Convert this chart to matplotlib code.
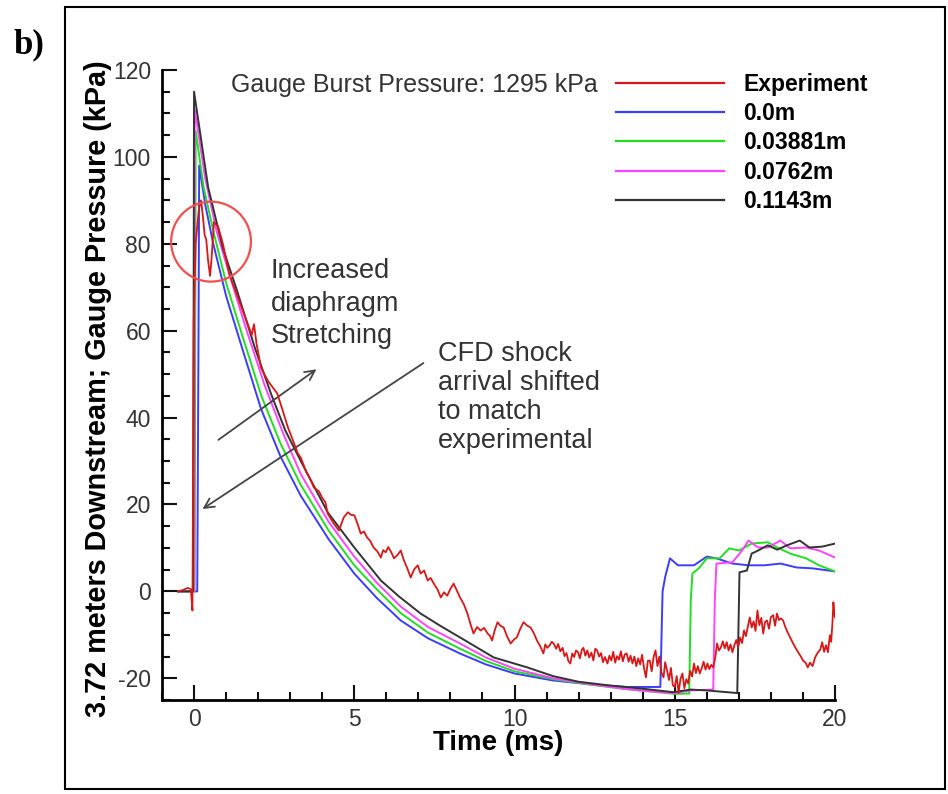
import matplotlib
matplotlib.use("Agg")
import matplotlib.pyplot as plt
from matplotlib.patches import Ellipse, Rectangle
from matplotlib.lines import Line2D

plt.rcParams["font.family"] = ["Liberation Sans", "DejaVu Sans"]
plt.rcParams["axes.unicode_minus"] = False

# ── Data ────────────────────────────────────────────────────────────────────

# Experiment: gauge 3.72 m downstream
exp_t = [-0.5, -0.35, -0.2, -0.1, -0.05, -0.03, -0.01, 0.05, 0.15, 0.22, 0.28,
         0.33, 0.38, 0.44, 0.5, 0.55, 0.62, 0.75, 0.9, 1.1, 1.35, 1.6, 1.8,
         1.87, 1.95, 2.09, 2.3, 2.45, 2.6, 2.75, 2.93, 3.1, 3.24, 3.33, 3.5,
         3.6, 3.74, 3.9, 4.0, 4.1, 4.17, 4.36, 4.52, 4.67, 4.8, 4.9, 5.0, 5.1,
         5.2, 5.3, 5.4, 5.5, 5.6, 5.72, 5.83, 5.9, 5.98, 6.06, 6.14, 6.24,
         6.35, 6.45, 6.55, 6.65, 6.76, 6.87, 6.98, 7.07, 7.18, 7.29, 7.38, 7.48,
         7.6, 7.7, 7.8, 7.9, 8.0, 8.1, 8.2, 8.3, 8.42, 8.53, 8.62, 8.72, 8.83,
         8.94, 9.05, 9.16, 9.23, 9.3, 9.38, 9.47, 9.56, 9.66, 9.77, 9.88, 9.98,
         10.07, 10.18, 10.28, 10.4, 10.5, 10.6, 10.7, 10.8, 10.9, 10.96, 11.02,
         11.1, 11.16, 11.22, 11.3, 11.36, 11.43, 11.5, 11.56, 11.62, 11.68,
         11.74, 11.8, 11.86, 11.92, 11.98, 12.04, 12.1, 12.15, 12.21, 12.27,
         12.33, 12.4, 12.46, 12.52, 12.58, 12.64, 12.7, 12.76, 12.82, 12.9,
         12.96, 13.02, 13.08, 13.14, 13.2, 13.26, 13.32, 13.38, 13.44, 13.5,
         13.56, 13.62, 13.68, 13.74, 13.8, 13.86, 13.92, 13.98, 14.04, 14.1,
         14.16, 14.22, 14.28, 14.34, 14.4, 14.46, 14.52, 14.58, 14.65, 14.7,
         14.76, 14.82, 14.88, 14.94, 15.0, 15.06, 15.12, 15.18, 15.24, 15.3,
         15.36, 15.42, 15.48, 15.54, 15.6, 15.66, 15.72, 15.78, 15.84, 15.9,
         15.96, 16.02, 16.08, 16.14, 16.2, 16.26, 16.32, 16.38, 16.44, 16.5,
         16.56, 16.62, 16.68, 16.74, 16.8, 16.86, 16.92, 16.98, 17.04, 17.1,
         17.16, 17.22, 17.28, 17.34, 17.4, 17.46, 17.52, 17.58, 17.64, 17.7,
         17.76, 17.82, 17.88, 17.94, 18.0, 18.07, 18.13, 18.19, 18.25, 18.31,
         18.38, 18.45, 18.52, 18.6, 18.68, 18.76, 18.84, 18.92, 19.0, 19.08,
         19.15, 19.22, 19.3, 19.38, 19.46, 19.54, 19.6, 19.66, 19.72, 19.78,
         19.84, 19.88, 19.92, 19.95, 19.98, 20.0]
exp_p = [0.0, 0.3, 0.8, 0.5, -4.4, 30.0, 62.0, 80.0, 88.0, 90.0, 86.0,
         82.0, 81.0, 76.0, 72.6, 77.0, 85.0, 84.0, 80.0, 73.0, 68.0, 63.0, 59.0,
         61.5, 57.0, 51.5, 48.5, 47.0, 45.5, 42.0, 37.7, 34.5, 31.7, 30.8, 27.5,
         26.2, 23.9, 23.0, 21.5, 20.5, 17.9, 15.6, 14.0, 17.0, 18.2, 17.6, 17.5, 15.6,
         13.3, 13.8, 12.4, 11.6, 10.1, 9.2, 7.8, 9.5, 9.0, 10.2, 9.2, 7.6,
         8.4, 9.4, 7.1, 5.4, 3.2, 5.1, 6.0, 4.1, 4.8, 2.5, 3.1, 1.8,
         0.4, -1.4, -0.2, -1.0, 0.6, 1.8, 0.2, -1.4, -3.0, -5.1, -7.4, -9.7, -8.2,
         -9.0, -8.4, -9.7, -10.2, -11.3, -9.0, -7.1, -7.9, -8.3, -10.4, -12.0, -11.1,
         -10.6, -8.6, -7.1, -7.9, -8.3, -9.6, -11.3, -12.6, -14.3, -12.2, -13.0,
         -12.4, -11.6, -12.0, -13.2, -12.1, -13.8, -13.0, -14.9, -14.2, -16.0,
         -16.6, -14.3, -15.1, -13.6, -14.0, -15.4, -13.4, -13.0, -14.8, -13.6,
         -15.2, -14.1, -15.9, -13.2, -13.6, -15.0, -14.2, -16.3, -15.1, -16.6,
         -14.8, -15.9, -13.9, -16.4, -14.9, -15.7, -13.8, -16.1, -14.5, -14.3,
         -16.2, -14.8, -16.6, -15.0, -17.2, -15.4, -16.8, -14.6, -17.6, -19.8,
         -16.0, -15.9, -18.4, -15.1, -13.6, -17.2, -15.0, -18.6, -19.8, -16.3,
         -18.2, -20.4, -17.6, -21.6, -22.0, -19.5, -23.4, -20.1, -18.9, -22.3,
         -20.2, -21.2, -18.3, -19.6, -16.6, -18.8, -17.2, -18.9, -17.7, -16.2,
         -18.0, -16.6, -17.9, -16.9, -17.5, -15.4, -12.0, -13.6, -12.9, -11.5,
         -13.1, -11.7, -13.6, -12.2, -14.0, -12.4, -11.2, -12.8, -10.6, -11.9,
         -9.0, -10.3, -8.2, -6.0, -8.3, -6.9, -9.1, -4.4, -7.8, -6.1,
         -9.7, -7.0, -6.7, -8.6, -5.9, -5.5, -7.9, -5.1, -6.6, -6.2,
         -6.7, -8.2, -9.4, -10.6, -11.8, -12.9, -13.9, -14.8, -15.9, -16.4,
         -17.5, -16.4, -17.2, -15.2, -14.1, -13.4, -11.7, -13.9, -12.4, -14.0,
         -10.1, -11.6, -7.4, -2.5, -5.0, -6.0]

# CFD, gauge offset 0.0 m
cfd0_t = [-0.5, 0.1, 0.14, 0.16, 0.35, 0.6, 1.0, 1.5, 2.09, 2.7, 3.33, 4.2, 5.0,
          5.7, 6.45, 7.3, 8.3, 9.1, 10.0, 11.2, 12.5, 13.5, 14.55, 14.62, 14.7,
          14.85, 15.1, 15.6, 16.0, 16.3, 16.8, 17.3, 17.8, 18.3, 18.8, 19.3, 20.0]
cfd0_p = [0.0, 0.0, 60.0, 98.0, 89.0, 80.0, 68.0, 56.0, 42.0, 31.0, 22.0, 12.0, 4.1,
          -1.5, -6.7, -10.8, -14.3, -16.8, -18.9, -20.5, -21.5, -22.0, -22.0, 0.0, 3.3,
          7.6, 6.0, 6.0, 8.0, 7.6, 6.4, 6.0, 6.0, 6.4, 5.5, 5.3, 4.6]

# CFD, 0.03881 m
cfd1_t = [-0.5, 0.02, 0.05, 0.3, 0.6, 1.0, 1.5, 2.1, 2.7, 3.33, 4.2, 5.0, 5.7,
          6.45, 7.3, 8.3, 9.1, 10.0, 11.2, 12.5, 13.5, 14.5, 15.0, 15.45, 15.5,
          15.55, 15.75, 16.0, 16.4, 16.7, 17.0, 17.4, 17.9, 18.2, 18.6, 19.1,
          19.5, 20.0]
cfd1_p = [0.0, 0.0, 106.0, 93.0, 83.0, 71.0, 59.0, 45.0, 34.0, 24.5, 14.0, 6.0, 0.5,
          -5.0, -9.5, -13.2, -16.0, -18.4, -20.2, -21.6, -22.5, -23.2, -23.6, -23.5, -2.0,
          4.1, 5.3, 7.6, 7.6, 9.9, 9.4, 11.0, 11.3, 10.1, 8.7, 7.6,
          6.0, 4.6]

# CFD, 0.0762 m
cfd2_t = [-0.5, 0.0, 0.02, 0.35, 0.7, 1.1, 1.6, 2.2, 2.8, 3.33, 4.2, 5.0, 5.7,
          6.45, 7.3, 8.3, 9.1, 10.0, 11.2, 12.5, 13.5, 14.5, 15.0, 15.5, 16.2,
          16.25, 16.3, 16.8, 17.1, 17.3, 17.6, 17.9, 18.3, 18.6, 19.1, 19.5, 20.0]
cfd2_p = [0.0, 0.0, 111.0, 95.0, 83.0, 73.0, 61.0, 47.5, 36.0, 27.0, 16.0, 8.0, 2.0,
          -3.5, -8.2, -12.0, -15.2, -17.8, -20.0, -21.5, -22.5, -23.2, -23.4, -22.8, -22.6,
          -2.0, 6.4, 6.7, 9.4, 11.7, 10.1, 10.1, 11.7, 9.9, 10.1, 9.4, 7.8]

# CFD, 0.1143 m
cfd3_t = [-0.5, -0.03, 0.0, 0.44, 0.9, 1.35, 1.9, 2.4, 2.85, 3.33, 4.17, 5.0,
          5.83, 6.4, 7.07, 7.7, 8.3, 9.35, 10.4, 11.2, 12.0, 12.9, 14.0, 14.95,
          15.5, 16.0, 16.95, 17.02, 17.25, 17.4, 17.6, 17.9, 18.2, 18.5, 18.9,
          19.2, 19.6, 20.0]
cfd3_p = [0.0, 0.0, 115.0, 93.0, 79.0, 69.0, 56.0, 45.5, 37.0, 30.0, 18.2, 10.1,
          2.5, -1.2, -5.1, -8.0, -10.6, -15.2, -17.5, -19.5, -20.8, -21.6, -22.4, -23.2,
          -22.6, -22.8, -23.4, 4.4, 4.8, 8.7, 9.4, 10.6, 9.6, 10.6, 11.7,
          10.1, 10.3, 11.0]

series = [
    ("0.0m",     cfd0_t, cfd0_p, "#3c3cff"),
    ("0.03881m", cfd1_t, cfd1_p, "#22dd22"),
    ("0.0762m",  cfd2_t, cfd2_p, "#ff44ff"),
    ("0.1143m",  cfd3_t, cfd3_p, "#333333"),
]
exp_color = "#d81818"

x_ticks = [0, 5, 10, 15, 20]
y_ticks = [-20, 0, 20, 40, 60, 80, 100, 120]

# ── Figure ──────────────────────────────────────────────────────────────────

fig = plt.figure(figsize=(9.48, 7.94), dpi=100)
ax = fig.add_axes([162 / 948, 1 - 700 / 794, 673 / 948, 630 / 794])

for label, t, p, c in series:
    ax.plot(t, p, color=c, lw=1.4, zorder=3)
ax.plot(exp_t, exp_p, color=exp_color, lw=1.3, zorder=4)

ax.set_xlim(-1, 20)
ax.set_ylim(-25, 120)
ax.set_xticks(x_ticks)
ax.set_yticks(y_ticks)
ax.set_xticks(range(-1, 21), minor=True)
ax.set_yticks(range(-25, 121, 5), minor=True)
ax.tick_params(which="both", direction="in", width=1.5, colors="#111111",
               labelcolor="#333333", labelsize=16.5)
ax.tick_params(which="major", length=11)
ax.tick_params(which="minor", length=6)
ax.tick_params(axis="x", pad=6)
ax.tick_params(axis="y", pad=8)
for side in ("top", "right"):
    ax.spines[side].set_visible(False)
for side in ("left", "bottom"):
    ax.spines[side].set_linewidth(2.0)

ax.set_xlabel("Time (ms)", fontsize=20, fontweight="bold")
ax.xaxis.set_label_coords(0.5, -0.047)
fig.text(98 / 948, 1 - 389 / 794, "3.72 meters Downstream; Gauge Pressure (kPa)",
         rotation=90, ha="center", va="center", fontsize=20.8, fontweight="bold")

# legend
handles = [Line2D([], [], color=exp_color, lw=1.6)]
labels = ["Experiment"]
for label, t, p, c in series:
    handles.append(Line2D([], [], color=c, lw=1.6))
    labels.append(label)
leg = ax.legend(handles, labels, loc="upper left", frameon=False,
                bbox_to_anchor=(616 / 948, 1 - 73 / 794),
                bbox_transform=fig.transFigure,
                prop={"weight": "bold", "size": 16.5},
                handlelength=4.7, handletextpad=0.85, labelspacing=0.27,
                borderpad=0, borderaxespad=0)

ax.text(1.15, 116.5, "Gauge Burst Pressure: 1295 kPa", fontsize=18,
        color="#333333", va="center", ha="left")

# annotations
ax.add_patch(Ellipse((0.53, 80.5), 2.49, 18.4, fill=False,
                     edgecolor="#f05050", lw=1.6, zorder=5))
ax.text(2.4, 66.2, "Increased\ndiaphragm\nStretching", fontsize=19.5,
        color="#333333", va="center", ha="left", linespacing=1.33)
ax.text(7.6, 44.6, "CFD shock\narrival shifted\nto match\nexperimental",
        fontsize=19.5, color="#333333", va="center", ha="left", linespacing=1.15)
arrow = dict(arrowstyle="->,head_length=0.7,head_width=0.35", color="#444444", lw=1.3)
ax.annotate("", xy=(3.89, 51.5), xytext=(0.69, 34.5), arrowprops=arrow)
ax.annotate("", xy=(0.19, 18.6), xytext=(7.23, 52.9), arrowprops=arrow)

# outer frame and panel label
fig.patches.append(Rectangle((65 / 948, 1 - 789 / 794), 880 / 948, 782 / 794,
                             transform=fig.transFigure, fill=False,
                             edgecolor="black", lw=1.5))
fig.text(29 / 948, 1 - 45 / 794, "b)", fontsize=25, fontweight="bold",
         family="Liberation Serif", ha="center", va="center")

fig.savefig("out.png", dpi=100)
